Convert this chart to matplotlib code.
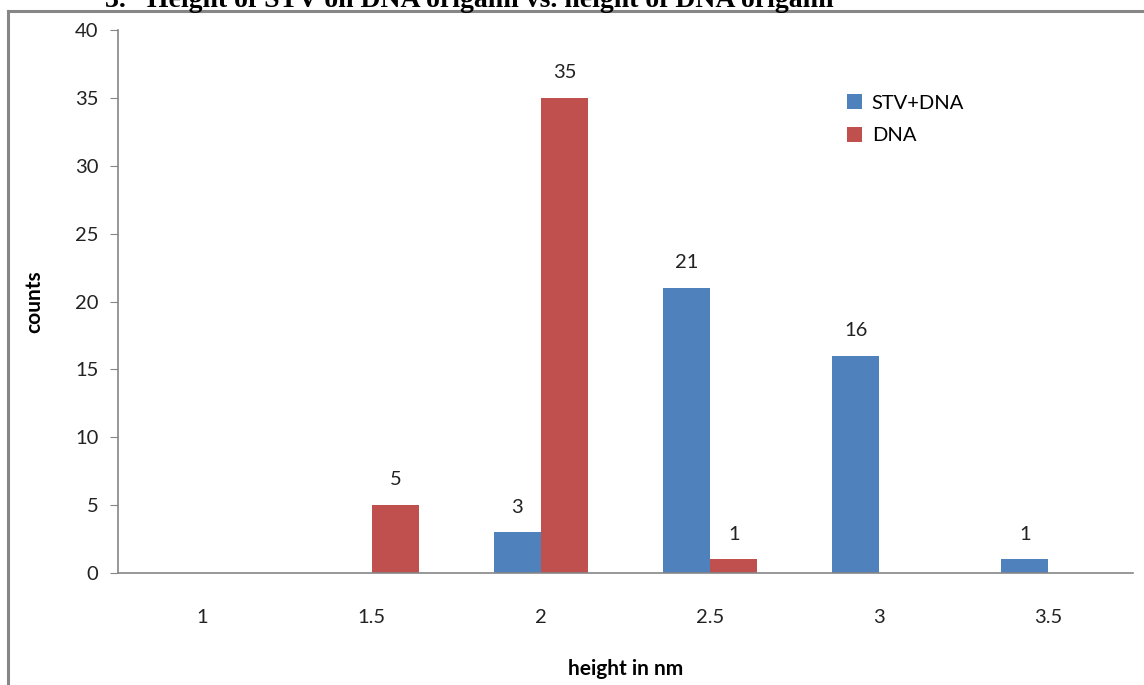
import matplotlib.pyplot as plt
import numpy as np
from matplotlib.lines import Line2D

heights = ["1", "1.5", "2", "2.5", "3", "3.5"]
stv_dna = [0, 0, 3, 21, 16, 1]
dna = [0, 5, 35, 1, 0, 0]

blue = "#4f81bd"
red = "#c0504d"
grey = "#868686"

plt.rcParams["font.family"] = ["Lato", "DejaVu Sans"]

fig = plt.figure(figsize=(11.44, 6.85), dpi=100)
ax = fig.add_axes([0.1031, 0.1635, 0.8873, 0.7927])

x = np.arange(len(heights))
w = 0.28
b1 = ax.bar(x - w / 2, stv_dna, w, color=blue, label="STV+DNA")
b2 = ax.bar(x + w / 2, dna, w, color=red, label="DNA")

# value labels, skipping empty bins
for bars, vals in ((b1, stv_dna), (b2, dna)):
    for rect, v in zip(bars, vals):
        if v == 0:
            continue
        ax.annotate(str(v), (rect.get_x() + rect.get_width() / 2, v),
                    xytext=(0, 12), textcoords="offset points",
                    ha="center", va="bottom", fontsize=14.5, color="#222222")

ax.set_xlim(-0.5, len(heights) - 0.5)
ax.set_ylim(0, 40)
ax.set_yticks(range(0, 41, 5))
ax.set_xticks(x)
ax.set_xticklabels(heights)
ax.tick_params(axis="y", length=6, color=grey, labelsize=14.5, labelcolor="#222222", pad=8)
ax.tick_params(axis="x", length=0, labelsize=14.5, labelcolor="#222222", pad=26)
for s in ("top", "right"):
    ax.spines[s].set_visible(False)
for s in ("left", "bottom"):
    ax.spines[s].set_color(grey)
    ax.spines[s].set_linewidth(1.2)

ax.set_xlabel("height in nm", fontsize=15, fontweight="bold", labelpad=24)
ax.set_ylabel("counts", fontsize=15, fontweight="bold", labelpad=22)

ax.legend(loc="upper left", bbox_to_anchor=(0.7, 0.915), frameon=False,
          fontsize=14.5, handlelength=0.75, handleheight=0.75, handletextpad=0.5,
          labelspacing=0.75)

# outer frame around the chart
fig.add_artist(Line2D([8 / 1144, 8 / 1144], [0, 1 - 11 / 685], color=grey, lw=2.2,
                      transform=fig.transFigure))
fig.add_artist(Line2D([8 / 1144, 1], [1 - 11 / 685, 1 - 11 / 685], color=grey, lw=2.2,
                      transform=fig.transFigure))

fig.text(105 / 1144, 1 - 7 / 685,
         "3.   Height of STV on DNA origami vs. height of DNA origami",
         fontsize=20, fontweight="bold", family="Liberation Serif",
         ha="left", va="baseline", color="black")

fig.savefig("out.png", dpi=100)
